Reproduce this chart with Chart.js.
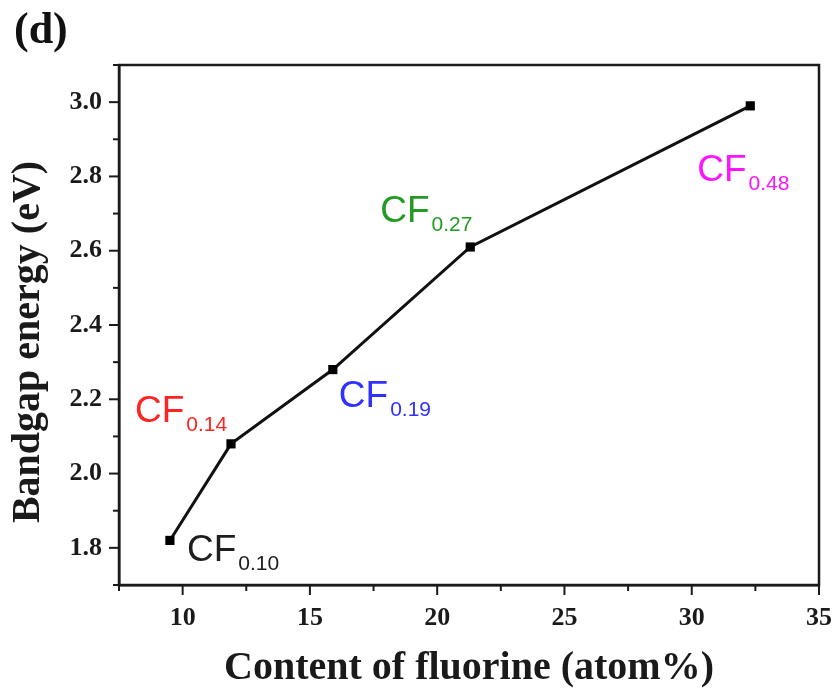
<!DOCTYPE html>
<html>
<head>
<meta charset="utf-8">
<script src="https://cdn.jsdelivr.net/npm/chart.js@4/dist/chart.umd.min.js"></script>
<style>
  html, body { margin: 0; padding: 0; background: #ffffff; }
  #wrap { width: 839px; height: 693px; }
</style>
</head>
<body>
<div id="wrap"><canvas id="c" width="839" height="693"></canvas></div>
<script>
// ---- data ----
const fluorineContent = [9.5, 11.9, 15.9, 21.3, 32.3];
const bandgapEnergy = [1.82, 2.08, 2.28, 2.61, 2.99];
const sampleMain = ['CF', 'CF', 'CF', 'CF', 'CF'];
const sampleSub = ['0.10', '0.14', '0.19', '0.27', '0.48'];
const xTickLabels = ['10', '15', '20', '25', '30', '35'];
const yTickLabels = ['1.8', '2.0', '2.2', '2.4', '2.6', '2.8', '3.0'];
const xTitle = 'Content of fluorine (atom%)';
const yTitle = 'Bandgap energy (eV)';
const panelLabel = '(d)';

// ---- styles ----
const sampleColors = ['#1e1e1e', '#ff2424', '#3030ff', '#249a24', '#ff14ff'];
const labelOffsets = [[17, 21], [-96, -22], [6, 37], [-90, -25], [-53, 75]];
const serif = "'Liberation Serif', 'Times New Roman', serif";
const sans = "'Liberation Sans', Arial, sans-serif";
const axisColor = '#1a1a1a';

const points = fluorineContent.map((x, i) => ({ x: x, y: bandgapEnergy[i] }));

const decorPlugin = {
  id: 'decor',
  afterDraw(chart) {
    const ctx = chart.ctx;
    const a = chart.chartArea;
    const xs = chart.scales.x, ys = chart.scales.y;
    ctx.save();
    // frame
    ctx.strokeStyle = axisColor;
    ctx.lineWidth = 2.5;
    ctx.strokeRect(a.left, a.top, a.right - a.left, a.bottom - a.top);
    // outward tick marks
    ctx.lineWidth = 2;
    xs.ticks.forEach((t) => {
      const px = xs.getPixelForValue(t.value);
      const len = t.label ? 10 : 6;
      ctx.beginPath(); ctx.moveTo(px, a.bottom); ctx.lineTo(px, a.bottom + len); ctx.stroke();
    });
    ys.ticks.forEach((t) => {
      const py = ys.getPixelForValue(t.value);
      const len = t.label ? 10 : 6;
      ctx.beginPath(); ctx.moveTo(a.left, py); ctx.lineTo(a.left - len, py); ctx.stroke();
    });
    // sample labels
    const meta = chart.getDatasetMeta(0);
    meta.data.forEach((el, i) => {
      const x0 = el.x + labelOffsets[i][0];
      const y0 = el.y + labelOffsets[i][1];
      ctx.fillStyle = sampleColors[i];
      ctx.textAlign = 'left';
      ctx.textBaseline = 'alphabetic';
      ctx.font = "37px " + sans;
      ctx.fillText(sampleMain[i], x0, y0);
      const w = ctx.measureText(sampleMain[i]).width;
      ctx.font = "21px " + sans;
      ctx.fillText(sampleSub[i], x0 + w + 2, y0 + 9);
    });
    // y title
    ctx.fillStyle = '#1a1a1a';
    ctx.font = "bold 40px " + serif;
    ctx.textAlign = 'center';
    ctx.textBaseline = 'middle';
    ctx.translate(29, 342);
    ctx.rotate(-Math.PI / 2);
    ctx.fillText(yTitle, 0, 0);
    ctx.restore();
    // panel label
    ctx.save();
    ctx.fillStyle = '#111111';
    ctx.font = "bold 44px " + serif;
    ctx.textAlign = 'left';
    ctx.textBaseline = 'alphabetic';
    ctx.fillText(panelLabel, 14, 43);
    ctx.restore();
  }
};

new Chart(document.getElementById('c'), {
  type: 'line',
  data: {
    datasets: [{
      data: points,
      borderColor: '#111111',
      borderWidth: 3,
      backgroundColor: '#000000',
      pointStyle: 'rect',
      pointRadius: 6.5,
      pointBorderWidth: 0,
      tension: 0,
      fill: false
    }]
  },
  options: {
    responsive: false,
    animation: false,
    devicePixelRatio: 1,
    layout: { padding: { top: 65, right: 20, left: 0, bottom: 0 } },
    plugins: { legend: { display: false }, tooltip: { enabled: false }, title: { display: false } },
    scales: {
      x: {
        type: 'linear',
        min: 7.5, max: 35,
        ticks: {
          stepSize: 2.5,
          autoSkip: false,
          maxRotation: 0,
          padding: 18,
          color: '#1a1a1a',
          font: { family: serif, size: 26, weight: 'bold' },
          callback: (v) => { const s = String(Math.round(v * 10) / 10); return xTickLabels.includes(s) ? s : ''; }
        },
        grid: { drawOnChartArea: false, drawTicks: false },
        border: { display: true, color: axisColor, width: 2.5 },
        title: {
          display: true, text: xTitle, color: '#1a1a1a',
          font: { family: serif, size: 40, weight: 'bold' },
          padding: { top: 0, bottom: 0 }
        },
        afterFit: (s) => { s.height = 108; s.paddingLeft = 0; s.paddingRight = 0; }
      },
      y: {
        type: 'linear',
        min: 1.7, max: 3.1,
        ticks: {
          stepSize: 0.1,
          autoSkip: false,
          padding: 17,
          color: '#1a1a1a',
          font: { family: serif, size: 26, weight: 'bold' },
          callback: (v) => { const s = (Math.round(v * 10) / 10).toFixed(1); return yTickLabels.includes(s) ? s : ''; }
        },
        grid: { drawOnChartArea: false, drawTicks: false },
        border: { display: true, color: axisColor, width: 2.5 },
        afterFit: (s) => { s.width = 119; s.paddingTop = 0; s.paddingBottom = 0; }
      }
    }
  },
  plugins: [decorPlugin]
});
</script>
</body>
</html>
